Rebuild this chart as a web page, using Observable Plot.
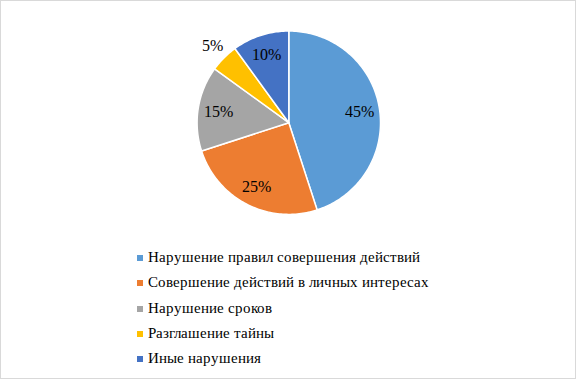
<!DOCTYPE html>
<html><head><meta charset="utf-8">
<style>
@font-face{font-family:'RefSerif';src:local('Liberation Serif'),local('LiberationSerif'),local('Liberation Serif Regular'),local('LiberationSerif-Regular'),local('Times New Roman');}
body{margin:0;background:#fff;font-family:'RefSerif','Liberation Serif','Times New Roman',serif;}
#wrap{position:relative;width:576px;height:379px;overflow:hidden;}
#frame{position:absolute;left:0;top:0;width:576px;height:379px;border:1px solid #d9d9d9;box-sizing:border-box;pointer-events:none;}
#chart{position:absolute;left:0;top:0;}
#legend{position:absolute;left:137px;top:245px;}
.li{height:25.3px;display:flex;align-items:center;font-size:15px;color:#000;white-space:nowrap;font-family:'RefSerif','Liberation Serif','Times New Roman',serif;}
.sw{width:6px;height:6px;margin-right:5px;margin-top:1px;}
svg text{font-family:'RefSerif','Liberation Serif','Times New Roman',serif !important;}
</style>
<script src="https://cdn.jsdelivr.net/npm/d3@7"></script>
<script src="https://cdn.jsdelivr.net/npm/@observablehq/plot@0.6"></script>
</head>
<body>
<div id="wrap"><div id="chart"></div><div id="legend"></div><div id="frame"></div></div>
<script>
const categories = ["Нарушение правил совершения действий","Совершение действий в личных интересах","Нарушение сроков","Разглашение тайны","Иные нарушения"];
const shares = [45, 25, 15, 5, 10];
const colors = ["#5B9BD5","#ED7D31","#A5A5A5","#FFC000","#4472C4"];

const arcs = d3.pie().sort(null).value(d => d)(shares);
const poly = [];
const labels = [];
arcs.forEach((a, i) => {
  const n = Math.max(2, Math.ceil((a.endAngle - a.startAngle) / 0.02));
  poly.push({k: i, x: 0, y: 0});
  for (let j = 0; j <= n; j++) {
    const t = a.startAngle + (a.endAngle - a.startAngle) * j / n;
    poly.push({k: i, x: Math.sin(t), y: Math.cos(t)});
  }
  const m = (a.startAngle + a.endAngle) / 2;
  const r = shares[i] < 6 ? 1.18 : 0.78;
  labels.push({x: r * Math.sin(m), y: r * Math.cos(m), t: shares[i] + "%"});
});

const cx = 288.3, cy = 122.2, R = 91.7;
const FF = "RefSerif, 'Liberation Serif', 'Times New Roman', serif";
const plot = Plot.plot({
  width: 576, height: 240,
  margin: 0,
  x: {domain: [-1, 1], range: [cx - R, cx + R], axis: null},
  y: {domain: [-1, 1], range: [cy + R, cy - R], axis: null},
  color: {domain: d3.range(categories.length), range: colors},
  style: {background: "transparent", fontFamily: FF},
  marks: [
    Plot.line(poly, {x: "x", y: "y", z: "k", fill: "k", stroke: "white", strokeWidth: 1.5, curve: "linear-closed", strokeLinejoin: "round"}),
    Plot.text(labels, {x: "x", y: "y", text: "t", fontSize: 16, fontFamily: FF, fill: "#000"})
  ]
});
document.getElementById("chart").appendChild(plot);

const leg = document.getElementById("legend");
categories.forEach((c, i) => {
  const d = document.createElement("div"); d.className = "li";
  const s = document.createElement("span"); s.className = "sw"; s.style.background = colors[i];
  const t = document.createElement("span"); t.textContent = c; t.style.fontFamily = FF;
  d.appendChild(s); d.appendChild(t); leg.appendChild(d);
});
</script>
</body></html>
